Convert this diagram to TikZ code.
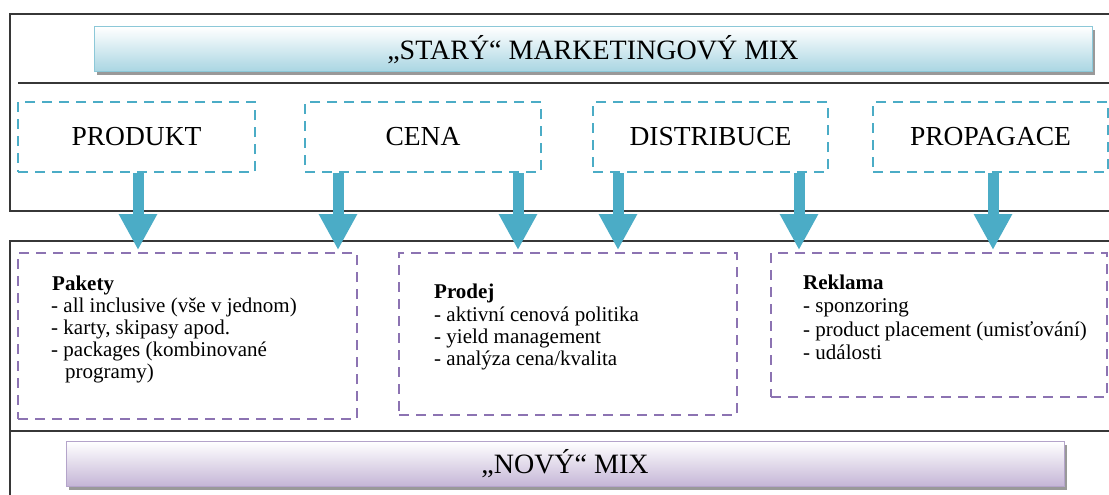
\documentclass[tikz,border=0pt]{standalone}
\usepackage{fontspec}
\setmainfont{Liberation Serif}
\usetikzlibrary{arrows.meta,shadows}
\definecolor{frameC}{RGB}{55,55,55}
\definecolor{blueC}{RGB}{75,172,198}
\definecolor{purpC}{RGB}{140,115,178}
\definecolor{hdrBot}{RGB}{168,213,226}
\definecolor{hdrLine}{RGB}{140,200,216}
\definecolor{novBot}{RGB}{196,181,214}
\definecolor{novLine}{RGB}{180,164,202}
\tikzset{
  frame/.style={draw=frameC, line width=1.6pt},
  hdr/.style={draw=hdrLine, line width=1pt, top color=white, bottom color=hdrBot,
    minimum width=998pt, minimum height=45pt, inner sep=0pt,
    font=\fontsize{28}{32}\selectfont,
    drop shadow={shadow xshift=3pt, shadow yshift=-3pt, fill=black!40, opacity=1}},
  nov/.style={hdr, draw=novLine, bottom color=novBot},
  oldbox/.style={draw=blueC, line width=2pt, dash pattern=on 10pt off 7pt,
    minimum height=70pt, inner sep=0pt, font=\fontsize{27.5}{32}\selectfont},
  newbox/.style={draw=purpC, line width=2pt, dash pattern=on 10pt off 7pt, inner sep=0pt},
  body/.style={anchor=base west, inner sep=0pt, font=\fontsize{21}{24}\selectfont},
  flow/.style={draw=blueC, line width=11pt, -{Triangle[width=36pt,length=36pt]}}
}
\begin{document}
\begin{tikzpicture}[x=1pt,y=-1pt]
\clip (0,0) rectangle (1109,495);
\fill[white] (0,0) rectangle (1109,495);
% frames
\draw[frame] (10,14) rectangle (1120,211);
\draw[frame] (18,83) -- (1120,83);
\draw[frame] (10,241) rectangle (1120,510);
\draw[frame] (10,431) -- (1120,431);
% header
\node[hdr] (stary) at (593,49.5) {„STARÝ“ MARKETINGOVÝ MIX};
\node[nov] (novy) at (565,464) {„NOVÝ“ MIX};
% old mix boxes
\node[oldbox, minimum width=237pt] (produkt) at (136.5,137) {PRODUKT};
\node[oldbox, minimum width=236pt] (cena) at (423,137) {CENA};
\node[oldbox, minimum width=235pt] (distr) at (710.5,137) {DISTRIBUCE};
\node[oldbox, minimum width=235pt] (propag) at (990.5,137) {PROPAGACE};
% new mix boxes
\node[newbox, minimum width=339pt, minimum height=166pt] (pakety) at (187.5,336) {};
\node[newbox, minimum width=338pt, minimum height=162pt] (prodej) at (568,334) {};
\node[newbox, minimum width=336pt, minimum height=144pt] (reklama) at (939,325) {};
% arrows
\coordinate (a1) at (138,0);
\coordinate (a2) at (338,0);
\coordinate (a3) at (518,0);
\coordinate (a4) at (618,0);
\coordinate (a5) at (799,0);
\coordinate (a6) at (993,0);
\draw[flow] (produkt.south -| a1) -- ([yshift=2pt]pakety.north -| a1);
\draw[flow] (cena.south -| a2) -- ([yshift=2pt]pakety.north -| a2);
\draw[flow] (cena.south -| a3) -- ([yshift=2pt]prodej.north -| a3);
\draw[flow] (distr.south -| a4) -- ([yshift=2pt]prodej.north -| a4);
\draw[flow] (distr.south -| a5) -- ([yshift=2pt]reklama.north -| a5);
\draw[flow] (propag.south -| a6) -- ([yshift=2pt]reklama.north -| a6);
% texts
\node[body] (pk0) at (52,290) {\textbf{Pakety}};
\node[body] (pk1) at (51,312) {- all inclusive (vše v jednom)};
\node[body] (pk2) at (51,334) {- karty, skipasy apod.};
\node[body] (pk3) at (51,356) {- packages (kombinované};
\node[body] (pk4) at (65,378) {programy)};
\node[body] (pd0) at (434,298) {\textbf{Prodej}};
\node[body] (pd1) at (434,321) {- aktivní cenová politika};
\node[body] (pd2) at (434,343) {- yield management};
\node[body] (pd3) at (434,365) {- analýza cena/kvalita};
\node[body] (rk0) at (803,289) {\textbf{Reklama}};
\node[body] (rk1) at (803,312) {- sponzoring};
\node[body] (rk2) at (803,336) {- product placement (umisťování)};
\node[body] (rk3) at (803,359) {- události};
\end{tikzpicture}
\end{document}
